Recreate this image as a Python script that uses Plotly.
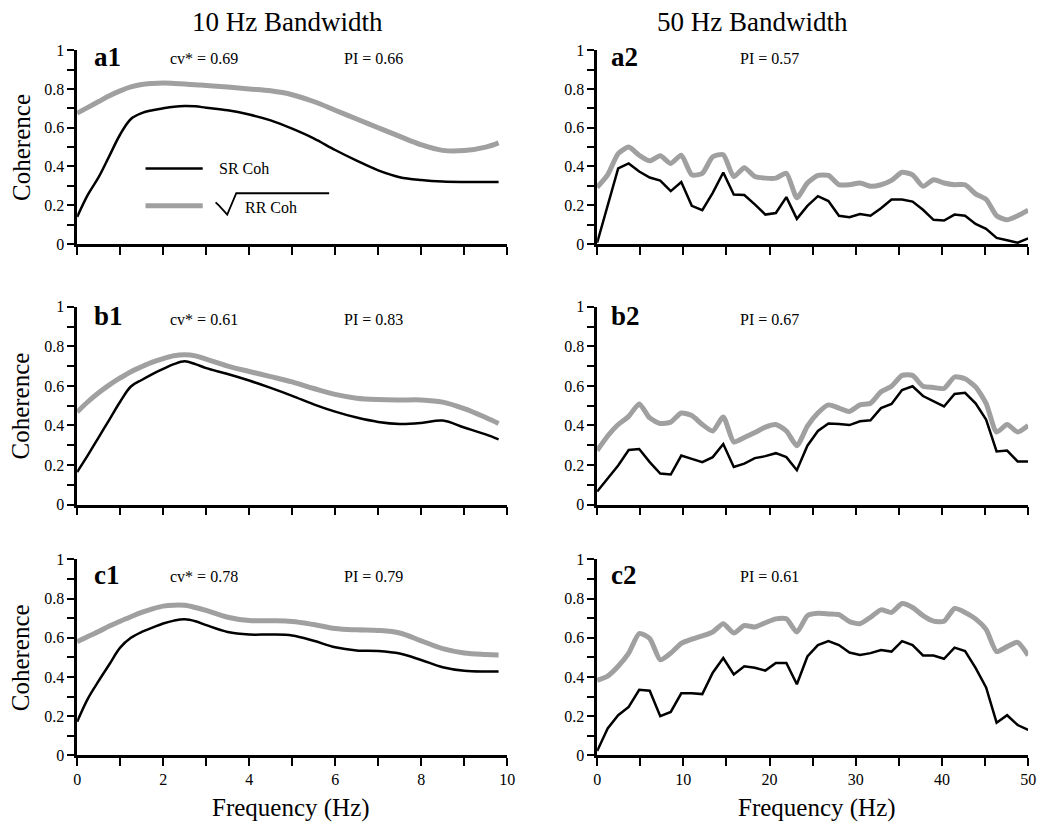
import plotly.graph_objects as go

# ---------------- data ----------------
FREQ_10 = [0, 0.25, 0.5, 0.75, 1.0, 1.25, 1.5, 1.75, 2.0, 2.25, 2.5, 2.75, 3.0, 3.5,
           4.0, 4.5, 5.0, 5.5, 6.0, 6.5, 7.0, 7.5, 8.0, 8.5, 9.0, 9.5, 9.8]

A1_SR = [0.14, 0.255, 0.345, 0.455, 0.565, 0.645, 0.675, 0.69, 0.70, 0.708, 0.712, 0.71, 0.703, 0.69,
         0.668, 0.638, 0.595, 0.545, 0.485, 0.43, 0.38, 0.345, 0.33, 0.322, 0.32, 0.32, 0.32]
A1_RR = [0.675, 0.705, 0.735, 0.765, 0.79, 0.81, 0.823, 0.828, 0.83, 0.828, 0.825, 0.821, 0.818, 0.81,
         0.80, 0.79, 0.77, 0.735, 0.69, 0.645, 0.60, 0.555, 0.512, 0.483, 0.482, 0.50, 0.522]
B1_SR = [0.165, 0.25, 0.34, 0.43, 0.52, 0.597, 0.63, 0.66, 0.686, 0.71, 0.724, 0.71, 0.69, 0.66,
         0.627, 0.59, 0.55, 0.507, 0.47, 0.44, 0.418, 0.408, 0.413, 0.425, 0.39, 0.355, 0.33]
B1_RR = [0.468, 0.52, 0.565, 0.605, 0.64, 0.672, 0.697, 0.72, 0.738, 0.752, 0.757, 0.752, 0.735, 0.70,
         0.673, 0.647, 0.62, 0.587, 0.557, 0.538, 0.531, 0.529, 0.529, 0.518, 0.485, 0.44, 0.41]
C1_SR = [0.172, 0.29, 0.38, 0.465, 0.55, 0.60, 0.63, 0.652, 0.673, 0.688, 0.695, 0.685, 0.665, 0.63,
         0.617, 0.617, 0.612, 0.585, 0.552, 0.536, 0.533, 0.52, 0.487, 0.45, 0.432, 0.428, 0.428]
C1_RR = [0.58, 0.607, 0.632, 0.66, 0.685, 0.708, 0.73, 0.748, 0.762, 0.767, 0.766, 0.755, 0.74, 0.705,
         0.688, 0.687, 0.684, 0.668, 0.648, 0.641, 0.638, 0.625, 0.585, 0.545, 0.523, 0.515, 0.512]

FREQ_50 = [0.0, 1.22, 2.44, 3.66, 4.88, 6.10, 7.32, 8.54, 9.76, 10.98, 12.20, 13.41, 14.63, 15.85,
           17.07, 18.29, 19.51, 20.73, 21.95, 23.17, 24.39, 25.61, 26.83, 28.05, 29.27, 30.49,
           31.71, 32.93, 34.15, 35.37, 36.59, 37.80, 39.02, 40.24, 41.46, 42.68, 43.90, 45.12,
           46.34, 47.56, 48.78, 50.0]

A2_SR = [0.007, 0.195, 0.39, 0.416, 0.374, 0.343, 0.327, 0.273, 0.32, 0.197, 0.175, 0.264, 0.369, 0.256,
         0.253, 0.205, 0.152, 0.16, 0.242, 0.13, 0.197, 0.247, 0.222, 0.146, 0.138, 0.155,
         0.146, 0.185, 0.23, 0.23, 0.219, 0.177, 0.125, 0.121, 0.152, 0.146, 0.104, 0.079,
         0.032, 0.02, 0.007, 0.029]
A2_RR = [0.293, 0.357, 0.466, 0.5, 0.458, 0.429, 0.455, 0.416, 0.458, 0.357, 0.365, 0.45, 0.461, 0.348,
         0.394, 0.348, 0.34, 0.34, 0.365, 0.239, 0.315, 0.354, 0.354, 0.306, 0.306, 0.315,
         0.298, 0.306, 0.328, 0.37, 0.357, 0.298, 0.332, 0.315, 0.306, 0.306, 0.259, 0.231,
         0.146, 0.125, 0.146, 0.175]
B2_SR = [0.066, 0.132, 0.198, 0.276, 0.281, 0.215, 0.157, 0.152, 0.248, 0.231, 0.215, 0.24, 0.306, 0.19,
         0.207, 0.235, 0.245, 0.26, 0.24, 0.174, 0.298, 0.372, 0.41, 0.408, 0.402, 0.421,
         0.426, 0.488, 0.509, 0.579, 0.598, 0.549, 0.521, 0.496, 0.559, 0.565, 0.512, 0.43,
         0.269, 0.273, 0.218, 0.218]
B2_RR = [0.273, 0.347, 0.405, 0.446, 0.509, 0.438, 0.41, 0.417, 0.463, 0.45, 0.405, 0.372, 0.443, 0.317,
         0.339, 0.364, 0.392, 0.405, 0.372, 0.298, 0.397, 0.463, 0.504, 0.488, 0.471, 0.504,
         0.512, 0.57, 0.598, 0.653, 0.653, 0.598, 0.592, 0.587, 0.645, 0.636, 0.595, 0.512,
         0.367, 0.405, 0.367, 0.4]
C2_SR = [0.022, 0.138, 0.205, 0.247, 0.335, 0.33, 0.2, 0.222, 0.317, 0.317, 0.313, 0.422, 0.497, 0.413,
         0.455, 0.447, 0.433, 0.472, 0.472, 0.363, 0.505, 0.563, 0.583, 0.563, 0.525, 0.513,
         0.522, 0.538, 0.53, 0.583, 0.563, 0.51, 0.51, 0.493, 0.55, 0.533, 0.447, 0.347,
         0.167, 0.205, 0.155, 0.13]
C2_RR = [0.383, 0.405, 0.455, 0.522, 0.622, 0.597, 0.488, 0.522, 0.572, 0.593, 0.61, 0.63, 0.672, 0.625,
         0.663, 0.655, 0.677, 0.697, 0.697, 0.63, 0.713, 0.725, 0.722, 0.718, 0.683, 0.672,
         0.705, 0.743, 0.73, 0.775, 0.755, 0.713, 0.685, 0.685, 0.75, 0.73, 0.697, 0.643,
         0.53, 0.555, 0.577, 0.51]

PANEL_LABELS = ["a1", "a2", "b1", "b2", "c1", "c2"]
CV_TEXT = {"a1": "cv* = 0.69", "b1": "cv* = 0.61", "c1": "cv* = 0.78"}
PI_TEXT = {"a1": "PI = 0.66", "a2": "PI = 0.57", "b1": "PI = 0.83",
           "b2": "PI = 0.67", "c1": "PI = 0.79", "c2": "PI = 0.61"}
COL_TITLES = ["10 Hz Bandwidth", "50 Hz Bandwidth"]
Y_TITLE = "Coherence"
X_TITLE = "Frequency (Hz)"
LEGEND_SR = "SR Coh"
LEGEND_RR = "RR Coh"

# ---------------- styling ----------------
W, H = 1050, 831
FONT = "Liberation Serif"
GREY = "#a0a0a0"
BLACK = "#000000"

def px_x(p):
    return p / W

def px_y(p):
    return 1 - p / H

col_px = [(74, 509), (600, 1036)]
row_px = [(43, 241), (305, 507), (563, 763)]

series = [
    (FREQ_10, A1_SR, A1_RR), (FREQ_50, A2_SR, A2_RR),
    (FREQ_10, B1_SR, B1_RR), (FREQ_50, B2_SR, B2_RR),
    (FREQ_10, C1_SR, C1_RR), (FREQ_50, C2_SR, C2_RR),
]

fig = go.Figure()
layout = dict(
    width=W, height=H, margin=dict(l=0, r=0, t=0, b=0),
    paper_bgcolor="white", plot_bgcolor="white", showlegend=False,
    font=dict(family=FONT, color="black", size=16),
)
annotations = []
shapes = []

for k in range(6):
    r, c = divmod(k, 2)
    n = k + 1
    xa = "x" if n == 1 else f"x{n}"
    ya = "y" if n == 1 else f"y{n}"
    freq, sr, rr = series[k]
    left = c == 0
    fig.add_trace(go.Scatter(
        x=freq, y=rr, xaxis=xa, yaxis=ya, mode="lines",
        line=dict(color=GREY, width=5, shape="spline", smoothing=1.0 if left else 0.6),
        hoverinfo="skip"))
    fig.add_trace(go.Scatter(
        x=freq, y=sr, xaxis=xa, yaxis=ya, mode="lines",
        line=dict(color=BLACK, width=2.5, shape="spline" if left else "linear",
                  **({"smoothing": 1.0} if left else {})),
        hoverinfo="skip"))

    x0, x1 = col_px[c]
    y0, y1 = row_px[r]
    xkey = "xaxis" if n == 1 else f"xaxis{n}"
    ykey = "yaxis" if n == 1 else f"yaxis{n}"
    bottom = r == 2
    layout[xkey] = dict(
        domain=[px_x(x0), px_x(x1)], anchor=ya,
        range=[0, 10] if left else [0, 50],
        dtick=2 if left else 10, tick0=0,
        showline=True, linecolor="black", linewidth=2.5,
        ticks="outside", ticklen=8, tickwidth=1.8, tickcolor="black",
        minor=dict(dtick=1 if left else 5, ticks="outside", ticklen=8,
                   tickwidth=1.8, tickcolor="black"),
        showgrid=False, zeroline=False,
        showticklabels=bottom,
        tickfont=dict(family=FONT, size=16, color="black"),
    )
    layout[ykey] = dict(
        domain=[px_y(y1), px_y(y0)], anchor=xa,
        range=[0, 1], dtick=0.2, tick0=0,
        showline=True, linecolor="black", linewidth=2.5,
        ticks="outside", ticklen=7, tickwidth=1.8, tickcolor="black",
        minor=dict(dtick=0.1, ticks="outside", ticklen=7,
                   tickwidth=1.8, tickcolor="black"),
        showgrid=False, zeroline=False,
        tickfont=dict(family=FONT, size=16, color="black"),
    )

    lab = PANEL_LABELS[k]
    lab_x = 89 if left else 612
    lab_y = [50, 314, 579][r]
    annotations.append(dict(
        text=f"<b>{lab}</b>", x=px_x(lab_x), y=px_y(lab_y), xref="paper", yref="paper",
        xanchor="left", yanchor="middle", showarrow=False,
        font=dict(family=FONT, size=27, color="black")))
    txt_y = [52, 318, 580][r]
    if lab in CV_TEXT:
        annotations.append(dict(
            text=CV_TEXT[lab], x=px_x(202), y=px_y(txt_y), xref="paper", yref="paper",
            xanchor="center", yanchor="middle", showarrow=False,
            font=dict(family=FONT, size=16, color="black")))
    pi_x = 374 if left else 774
    annotations.append(dict(
        text=PI_TEXT[lab], x=px_x(pi_x), y=px_y(txt_y), xref="paper", yref="paper",
        xanchor="center", yanchor="middle", showarrow=False,
        font=dict(family=FONT, size=16, color="black")))

    if left:
        annotations.append(dict(
            text=Y_TITLE, x=px_x(17), y=px_y((y0 + y1) / 2), xref="paper", yref="paper",
            xanchor="center", yanchor="middle", textangle=-90, showarrow=False,
            font=dict(family=FONT, size=25, color="black")))
    if bottom:
        annotations.append(dict(
            text=X_TITLE, x=px_x(290 if left else 822), y=px_y(817), xref="paper", yref="paper",
            xanchor="center", yanchor="middle", showarrow=False,
            font=dict(family=FONT, size=25, color="black")))

# column titles
for c, t in enumerate(COL_TITLES):
    annotations.append(dict(
        text=t, x=px_x([287, 757][c]), y=px_y(14), xref="paper", yref="paper",
        xanchor="center", yanchor="middle", showarrow=False,
        font=dict(family=FONT, size=27, color="black")))

# legend inside panel a1 (drawn in a1's data coordinates)
shapes.append(dict(type="line", xref="x", yref="y", x0=1.59, x1=2.92, y0=0.389, y1=0.389,
                   line=dict(color=BLACK, width=2.5)))
shapes.append(dict(type="line", xref="x", yref="y", x0=1.59, x1=2.92, y0=0.197, y1=0.197,
                   line=dict(color=GREY, width=5)))
shapes.append(dict(type="path", xref="x", yref="y",
                   path="M 3.22,0.215 L 3.30,0.198 L 3.49,0.152 L 3.70,0.262 L 5.86,0.262",
                   line=dict(color=BLACK, width=1.8)))
annotations.append(dict(text=LEGEND_SR, x=3.26, y=0.389, xref="x", yref="y",
                        xanchor="left", yanchor="middle", showarrow=False,
                        font=dict(family=FONT, size=16, color="black")))
annotations.append(dict(text=LEGEND_RR, x=3.86, y=0.19, xref="x", yref="y",
                        xanchor="left", yanchor="middle", showarrow=False,
                        font=dict(family=FONT, size=16, color="black")))

layout["annotations"] = annotations
layout["shapes"] = shapes
fig.update_layout(**layout)
fig.write_html("out.html", config={"displayModeBar": False},
               post_script="document.body.style.margin='0';document.body.style.overflow='hidden';")
